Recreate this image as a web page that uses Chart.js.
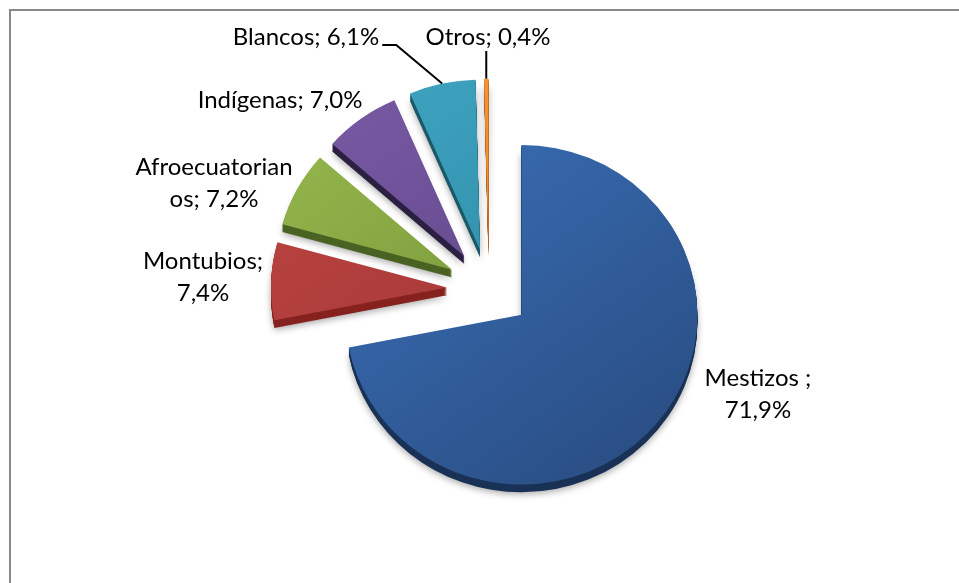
<!DOCTYPE html>
<html>
<head>
<meta charset="utf-8">
<title>Población por autoidentificación étnica</title>
<script src="https://cdn.jsdelivr.net/npm/chart.js@4.4.0/dist/chart.umd.min.js"></script>
<style>
    html, body { margin: 0; padding: 0; background: #fff; overflow: hidden; }
    #wrap { position: relative; width: 959px; height: 583px; }
    #marco { position: absolute; left: 9px; top: 9px; width: 1000px; height: 700px; border: 2px solid #888; box-sizing: border-box; }
    #pastel { position: absolute; left: 0; top: 0; }
</style>
</head>
<body>
<div id="wrap">
    <div id="marco"></div>
    <canvas id="pastel" width="959" height="583"></canvas>
</div>
<script>
// datos
var categorias = ['Mestizos ', 'Montubios', 'Afroecuatorianos', 'Indígenas', 'Blancos', 'Otros'];
var porcentajes = [71.9, 7.4, 7.2, 7.0, 6.1, 0.4];

// colores: cara superior (claro, oscuro) y lateral
var caras = [['#3a70b8', '#2a4e84'], ['#bf4643', '#9c3432'], ['#98ba4e', '#718f36'],
             ['#7a5ba6', '#5c4383'], ['#40a6c4', '#2c879f'], ['#f79b3c', '#e07e20']];
var lados = ['#1a3256', '#86221f', '#4a6323', '#2b1f42', '#1c5a6a', '#a2531a'];

var RADIO = 176;        // radio del pastel
var EXPLOSION = 42;     // separación de cada porción
var PROFUNDIDAD = 8;    // grosor del pastel
var ESCALA_Y = 0.965;   // inclinación

// etiquetas: centro del texto, corte de línea y línea guía
var posEtiquetas = [
    { x: 758, y: 394, corte: 10 },
    { x: 203, y: 277, corte: 10 },
    { x: 214, y: 183, corte: 14 },
    { x: 280, y: 100 },
    { x: 306, y: 37, guia: 'codo' },
    { x: 488, y: 37, guia: 'vertical' }
];

function textoEtiqueta(i) {
    return categorias[i] + '; ' + porcentajes[i].toFixed(1).replace('.', ',') + '%';
}

function cuna(ctx, arc) {
    ctx.beginPath();
    ctx.moveTo(arc.x, arc.y);
    ctx.arc(arc.x, arc.y, arc.outerRadius, arc.startAngle, arc.endAngle);
    ctx.closePath();
}

// punto medio del borde exterior de una porción, ya separada
function borde(arc) {
    var mid = (arc.startAngle + arc.endAngle) / 2;
    var d = EXPLOSION + arc.outerRadius;
    return { x: arc.x + Math.cos(mid) * d, y: arc.y + Math.sin(mid) * d * ESCALA_Y };
}

var pastel3d = {
    id: 'pastel3d',
    beforeDatasetDraw: function(chart, args) {
        var ctx = chart.ctx;
        var arcs = args.meta.data;
        var cx = arcs[0].x, cy = arcs[0].y;
        ctx.save();
        ctx.translate(cx, cy);
        ctx.scale(1, ESCALA_Y);
        ctx.translate(-cx, -cy);

        // laterales y sombra
        arcs.forEach(function(arc, i) {
            var mid = (arc.startAngle + arc.endAngle) / 2;
            ctx.save();
            ctx.translate(Math.cos(mid) * EXPLOSION, Math.sin(mid) * EXPLOSION);
            ctx.fillStyle = lados[i];
            for (var k = PROFUNDIDAD; k >= 1; k--) {
                ctx.save();
                if (k == PROFUNDIDAD) {
                    ctx.shadowColor = 'rgba(0,0,0,0.35)';
                    ctx.shadowBlur = 7;
                    ctx.shadowOffsetY = 2;
                }
                ctx.translate(0, k);
                cuna(ctx, arc);
                ctx.fill();
                ctx.restore();
            }
            ctx.restore();
        });

        // caras superiores
        arcs.forEach(function(arc) {
            var mid = (arc.startAngle + arc.endAngle) / 2;
            ctx.save();
            ctx.translate(Math.cos(mid) * EXPLOSION, Math.sin(mid) * EXPLOSION);
            arc.draw(ctx);
            ctx.restore();
        });
        ctx.restore();
        return false;
    }
};

var etiquetas = {
    id: 'etiquetas',
    afterDraw: function(chart) {
        var ctx = chart.ctx;
        var arcs = chart.getDatasetMeta(0).data;
        ctx.save();
        ctx.font = '24px Lato';
        ctx.fillStyle = '#000';
        ctx.strokeStyle = '#000';
        ctx.lineWidth = 2;
        ctx.textAlign = 'center';
        ctx.textBaseline = 'middle';
        arcs.forEach(function(arc, i) {
            var lay = posEtiquetas[i];
            var texto = textoEtiqueta(i);
            var lineas = lay.corte ? [texto.slice(0, lay.corte), texto.slice(lay.corte).trim()] : [texto];
            lineas.forEach(function(l, k) {
                ctx.fillText(l, lay.x, lay.y + (k - (lineas.length - 1) / 2) * 32);
            });
            var p = borde(arc);
            if (lay.guia == 'codo') {
                var x0 = lay.x + ctx.measureText(texto).width / 2 + 3;
                ctx.beginPath();
                ctx.moveTo(x0, lay.y + 8);
                ctx.lineTo(x0 + 14, lay.y + 8);
                ctx.lineTo(p.x, p.y);
                ctx.stroke();
            } else if (lay.guia == 'vertical') {
                ctx.beginPath();
                ctx.moveTo(p.x, lay.y + 14);
                ctx.lineTo(p.x, p.y);
                ctx.stroke();
            }
        });
        ctx.restore();
    }
};

new Chart(document.getElementById('pastel'), {
    type: 'pie',
    data: {
        labels: categorias,
        datasets: [{
            data: porcentajes,
            borderWidth: 0,
            backgroundColor: function(c) {
                var i = c.dataIndex;
                var area = c.chart.chartArea;
                if (!area) return caras[i][0];
                var cx = (area.left + area.right) / 2, cy = (area.top + area.bottom) / 2;
                var g = c.chart.ctx.createLinearGradient(cx - RADIO, cy - RADIO, cx + RADIO * 0.5, cy + RADIO);
                g.addColorStop(0, caras[i][0]);
                g.addColorStop(1, caras[i][1]);
                return g;
            }
        }]
    },
    options: {
        responsive: false,
        animation: false,
        events: [],
        radius: RADIO,
        layout: { padding: { left: 19, right: 0, top: 0, bottom: 5 } },
        plugins: {
            legend: { display: false },
            tooltip: { enabled: false }
        }
    },
    plugins: [pastel3d, etiquetas]
});
</script>
</body>
</html>
